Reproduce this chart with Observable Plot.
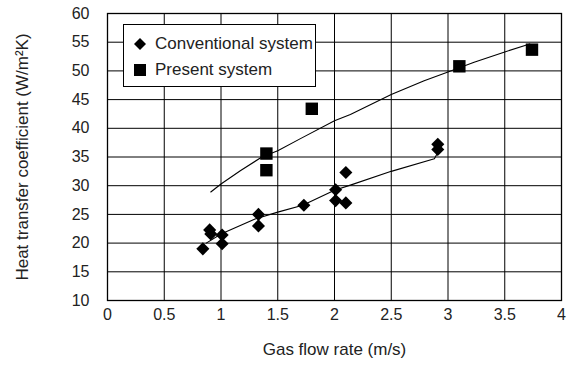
<!DOCTYPE html>
<html><head><meta charset="utf-8">
<script src="https://cdn.jsdelivr.net/npm/d3@7"></script>
<script src="https://cdn.jsdelivr.net/npm/@observablehq/plot@0.6"></script>
<style>
body{margin:0;background:#fff}
#wrap{position:relative;width:570px;height:368px;font-family:"Liberation Sans",Arial,sans-serif}
#legend{position:absolute;left:123px;top:24px;width:193px;height:63px;background:#fff;border:1px solid #000;box-sizing:border-box;font-size:17px;color:#222}
#legend .row{position:absolute;left:0;height:20px;display:flex;align-items:center}
#legend svg{margin-left:9px;margin-right:8px}
</style>
</head><body><div id="wrap"><div id="legend"></div></div>
<script>
// Conventional system (diamonds)
const convX = [0.84, 0.90, 0.91, 1.01, 1.01, 1.33, 1.33, 1.73, 2.01, 2.01, 2.10, 2.10, 2.91, 2.91];
const convY = [19.0, 22.3, 21.6, 21.4, 19.9, 25.0, 23.0, 26.6, 29.3, 27.4, 32.3, 27.0, 37.2, 36.3];
// Present system (squares)
const presX = [1.40, 1.40, 1.80, 3.10, 3.74];
const presY = [35.6, 32.7, 43.4, 50.8, 53.7];
// Trend lines
const convTrendX = [0.87, 1.00, 1.30, 1.50, 1.72, 2.00, 2.14, 2.50, 2.88, 2.91];
const convTrendY = [20.0, 21.6, 24.2, 25.4, 26.6, 29.2, 30.1, 32.5, 34.7, 35.8];
const presTrendX = [0.91, 1.00, 1.17, 1.36, 1.50, 1.70, 2.00, 2.14, 2.50, 2.79, 3.00, 3.23, 3.50, 3.72];
const presTrendY = [28.9, 30.3, 32.6, 35.0, 36.1, 38.2, 41.3, 42.4, 45.9, 48.3, 49.8, 51.5, 53.3, 54.7];
const xTicks = [0, 0.5, 1, 1.5, 2, 2.5, 3, 3.5, 4];
const yTicks = [10, 15, 20, 25, 30, 35, 40, 45, 50, 55, 60];
const xTitle = "Gas flow rate (m/s)";
const yTitle = "Heat transfer coefficient (W/m²K)";

const conv = convX.map((x, i) => ({x, y: convY[i]}));
const pres = presX.map((x, i) => ({x, y: presY[i]}));
const convTrend = convTrendX.map((x, i) => ({x, y: convTrendY[i]}));
const presTrend = presTrendX.map((x, i) => ({x, y: presTrendY[i]}));

const chart = Plot.plot({
  width: 570, height: 368,
  marginLeft: 107, marginRight: 9, marginTop: 13, marginBottom: 68,
  style: {background: "white", fontFamily: "'Liberation Sans', Arial, sans-serif", fontSize: "16px", color: "#222"},
  x: {domain: [0, 4]},
  y: {domain: [10, 60]},
  marks: [
    Plot.gridX(xTicks, {stroke: "black", strokeOpacity: 1, strokeWidth: 1}),
    Plot.gridY(yTicks, {stroke: "black", strokeOpacity: 1, strokeWidth: 1}),
    Plot.frame({stroke: "black", strokeWidth: 1.3}),
    Plot.axisX({ticks: xTicks, tickSize: 0, tickPadding: 8, tickFormat: d => String(d), fontSize: 16, label: null}),
    Plot.axisY({ticks: yTicks, tickSize: 0, tickPadding: 18, fontSize: 16, label: null}),
    Plot.text([xTitle], {text: d => d, frameAnchor: "bottom", dy: 54, fontSize: 17, fill: "#222", textAnchor: "middle"}),
    Plot.text([yTitle], {text: d => d, frameAnchor: "left", rotate: -90, dx: -85, fontSize: 17, fill: "#222", textAnchor: "middle"}),
    Plot.line(convTrend, {x: "x", y: "y", stroke: "black", strokeWidth: 1.1}),
    Plot.line(presTrend, {x: "x", y: "y", stroke: "black", strokeWidth: 1.1}),
    Plot.dot(conv, {x: "x", y: "y", symbol: "diamond2", r: 5.9, fill: "black", stroke: "none"}),
    Plot.dot(pres, {x: "x", y: "y", symbol: "square", r: 7, fill: "black", stroke: "none"})
  ]
});
chart.style.position = "absolute";
chart.style.left = "0"; chart.style.top = "0";
const wrap = document.getElementById("wrap");
wrap.insertBefore(chart, wrap.firstChild);

const legendItems = [
  {label: "Conventional system", shape: "diamond", top: 9},
  {label: "Present system", shape: "square", top: 35}
];
const legend = document.getElementById("legend");
for (const it of legendItems) {
  const row = document.createElement("div");
  row.className = "row";
  row.style.top = it.top + "px";
  const sym = it.shape === "diamond"
    ? '<svg width="14" height="14"><path d="M7,1L13,7L7,13L1,7Z" fill="black"/></svg>'
    : '<svg width="14" height="14"><rect x="1" y="1" width="12" height="12" fill="black"/></svg>';
  row.innerHTML = sym + '<span>' + it.label + '</span>';
  legend.appendChild(row);
}
</script>
</body></html>
